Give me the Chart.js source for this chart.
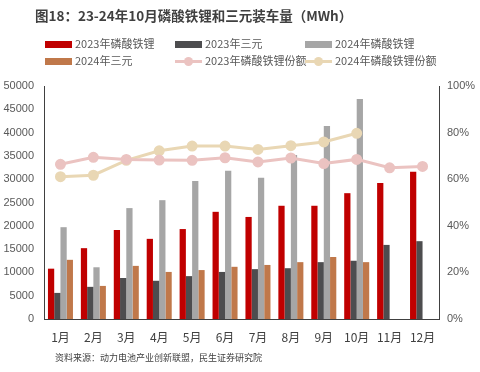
<!DOCTYPE html>
<html>
<head>
<meta charset="utf-8">
<script src="https://cdn.jsdelivr.net/npm/chart.js@4/dist/chart.umd.min.js"></script>
<style>
  body { margin: 0; background: #fff; font-family: "Noto Sans CJK SC", sans-serif; }
  #wrap { position: relative; width: 480px; height: 372px; }
  #title { position: absolute; left: 35px; top: 5px; font-size: 13.5px; font-weight: bold; color: #404040; }
  #legend { position: absolute; left: 45px; top: 36px; width: 420px; font-size: 11px; color: #595959; }
  .item { position: absolute; height: 14px; line-height: 14px; white-space: nowrap; }
  .box { display: inline-block; width: 27px; height: 7px; vertical-align: middle; margin-right: 3px; position: relative; top: -1px; }
  .ln { display: inline-block; width: 27px; height: 3px; vertical-align: middle; margin-right: 3px; position: relative; top: -1px; }
  .ln i { position: absolute; left: 9px; top: -3px; width: 9px; height: 9px; border-radius: 50%; }
  #src { position: absolute; left: 55px; top: 351px; font-size: 9px; color: #404040; }
  canvas { position: absolute; left: 0; top: 0; }
</style>
</head>
<body>
<div id="wrap">
  <canvas id="chart" width="480" height="372"></canvas>
  <div id="title">图18：23-24年10月磷酸铁锂和三元装车量（MWh）</div>
  <div id="legend"></div>
  <div id="src">资料来源：动力电池产业创新联盟，民生证券研究院</div>
</div>
<script>
var months = ['1月', '2月', '3月', '4月', '5月', '6月', '7月', '8月', '9月', '10月', '11月', '12月'];

var lfp2023 = [10800, 15200, 19100, 17200, 19300, 23000, 21900, 24300, 24300, 27000, 29200, 31600];
var ncm2023 = [5600, 6900, 8800, 8200, 9200, 10100, 10700, 10900, 12200, 12500, 15900, 16700];
var lfp2024 = [19700, 11100, 23800, 25500, 29600, 31800, 30300, 35200, 41400, 47200, null, null];
var ncm2024 = [12700, 7100, 11400, 10100, 10500, 11200, 11600, 12200, 13300, 12200, null, null];

var share2023 = [66.4, 69.4, 68.5, 68.2, 68.1, 69.2, 67.4, 69.1, 66.7, 68.5, 64.9, 65.5];
var share2024 = [61.1, 61.7, 68.1, 72.2, 74.2, 74.2, 72.8, 74.4, 76.0, 79.7, null, null];

var leftTicks = [0, 5000, 10000, 15000, 20000, 25000, 30000, 35000, 40000, 45000, 50000];
var rightTicks = [0, 20, 40, 60, 80, 100];

var red = '#C00000', dark = '#4D4D4F', grey = '#A6A6A6', orange = '#C0784A';
var pink = '#EBC3C1', beige = '#E9D7B4';
var axisColor = '#404040';

function barSet(label, data, color) {
    return { type: 'bar', label: label, data: data, backgroundColor: color, yAxisID: 'y', order: 2,
             categoryPercentage: 0.76, barPercentage: 1 };
}
function lineSet(label, data, color) {
    return { type: 'line', label: label, data: data, borderColor: color, backgroundColor: color,
             borderWidth: 3, pointRadius: 4, pointHoverRadius: 4, yAxisID: 'y1', order: 1, spanGaps: false };
}

var datasets = [
    barSet('2023年磷酸铁锂', lfp2023, red),
    barSet('2023年三元', ncm2023, dark),
    barSet('2024年磷酸铁锂', lfp2024, grey),
    barSet('2024年三元', ncm2024, orange),
    lineSet('2023年磷酸铁锂份额', share2023, pink),
    lineSet('2024年磷酸铁锂份额', share2024, beige)
];

// legend laid out in 3 columns like the original
var legendEl = document.getElementById('legend');
datasets.forEach(function(ds, n) {
    var div = document.createElement('div');
    div.className = 'item';
    div.style.left = (n % 3) * 130 + 'px';
    div.style.top = Math.floor(n / 3) * 17 + 'px';
    if (ds.type === 'bar') {
        div.innerHTML = '<span class="box" style="background:' + ds.backgroundColor + '"></span>' + ds.label;
    } else {
        div.innerHTML = '<span class="ln" style="background:' + ds.borderColor + '"><i style="background:' + ds.borderColor + '"></i></span>' + ds.label;
    }
    legendEl.appendChild(div);
});

var tickFont = { family: 'Liberation Sans, Arial, sans-serif', size: 11 };

new Chart(document.getElementById('chart'), {
    data: { labels: months, datasets: datasets },
    options: {
        responsive: false,
        animation: false,
        layout: { padding: { top: 86, left: 0, right: 0, bottom: 0 } },
        plugins: { legend: { display: false }, tooltip: { enabled: false } },
        scales: {
            x: {
                grid: { display: false, drawTicks: false },
                border: { color: axisColor, width: 1 },
                ticks: { color: '#404040', font: { family: 'Noto Sans CJK SC', size: 12 }, padding: 11 },
                afterFit: function(s) { s.height = 372 - 319; }
            },
            y: {
                position: 'left',
                min: 0, max: 50000,
                afterBuildTicks: function(s) { s.ticks = leftTicks.map(function(v) { return { value: v }; }); },
                grid: { display: false, drawTicks: false },
                border: { color: axisColor, width: 1 },
                ticks: { color: '#595959', font: tickFont, padding: 10,
                         callback: function(v) { return String(v); } },
                afterFit: function(s) { s.width = 44; }
            },
            y1: {
                position: 'right',
                min: 0, max: 100,
                afterBuildTicks: function(s) { s.ticks = rightTicks.map(function(v) { return { value: v }; }); },
                grid: { display: false, drawTicks: false },
                border: { color: axisColor, width: 1 },
                ticks: { color: '#595959', font: tickFont, padding: 8,
                         callback: function(v) { return v + '%'; } },
                afterFit: function(s) { s.width = 480 - 439; }
            }
        }
    }
});
</script>
</body>
</html>
